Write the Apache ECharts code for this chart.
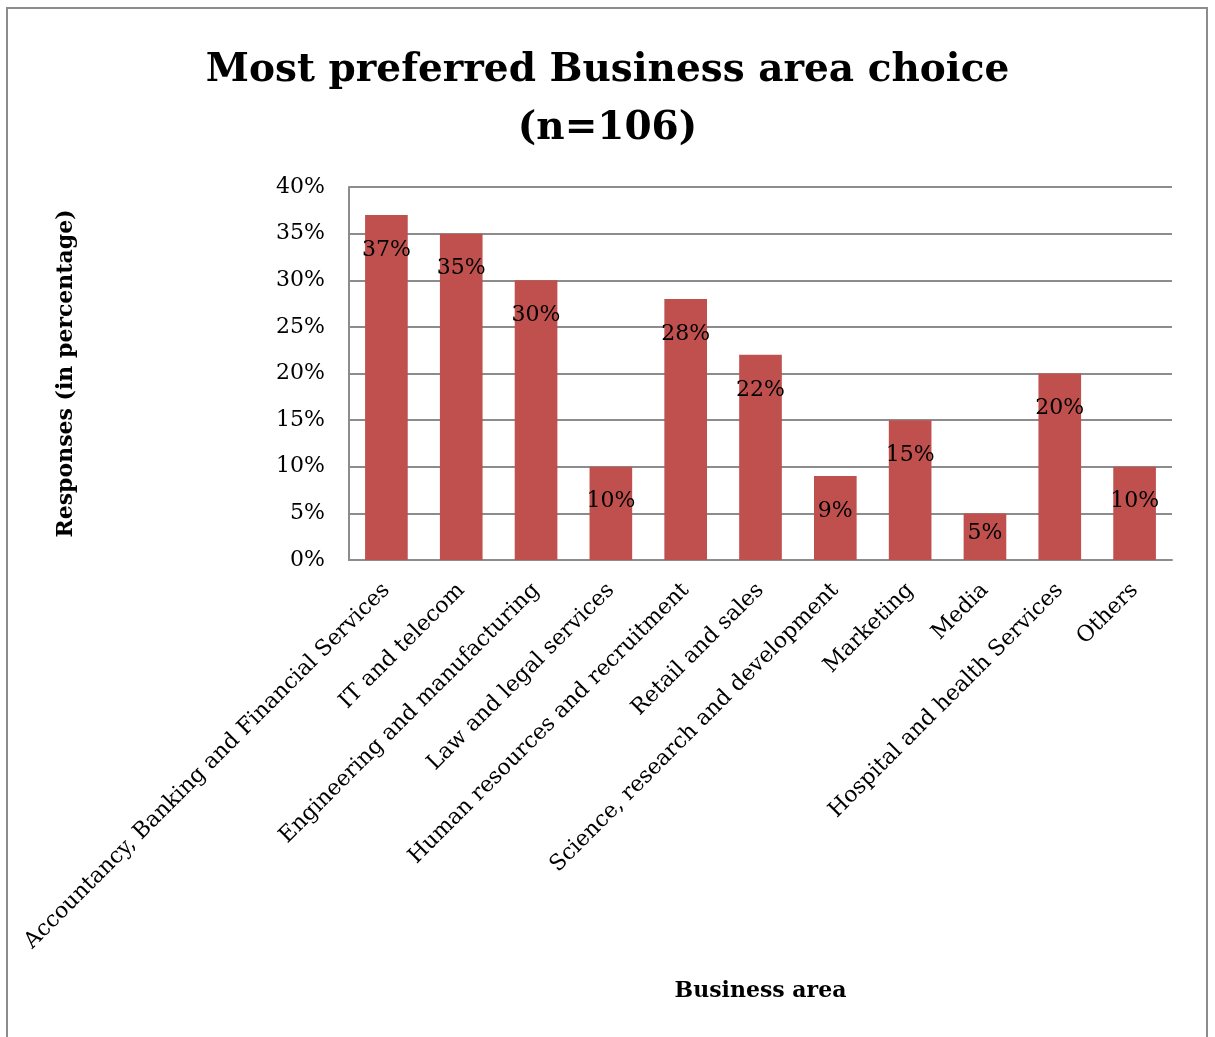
<!DOCTYPE html>
<html>
<head>
<meta charset="utf-8">
<script src="https://cdn.jsdelivr.net/npm/echarts@6/dist/echarts.min.js"></script>
<style>
  html, body { margin: 0; padding: 0; background: #ffffff; }
  #chart { width: 1215px; height: 1037px; }
</style>
</head>
<body>
<div id="chart"></div>
<script>
// Business areas and the share of respondents (%) choosing each one
const categories = [
  'Accountancy, Banking and Financial Services',
  'IT and telecom',
  'Engineering and manufacturing',
  'Law and legal services',
  'Human resources and recruitment',
  'Retail and sales',
  'Science, research and development',
  'Marketing',
  'Media',
  'Hospital and health Services',
  'Others'
];
const responses = [37, 35, 30, 10, 28, 22, 9, 15, 5, 20, 10];
const yTicks = { min: 0, max: 40, step: 5 };

const SERIF = '"DejaVu Serif", "Liberation Serif", serif';
const GRAY = '#8c8c8c';

const chart = echarts.init(document.getElementById('chart'), null, { renderer: 'canvas' });

chart.setOption({
  backgroundColor: '#ffffff',
  animation: false,
  title: {
    text: 'Most preferred Business area choice\n(n=106)',
    left: 'center',
    top: 37,
    textStyle: {
      fontFamily: SERIF,
      fontWeight: 'bold',
      fontSize: 39,
      lineHeight: 58,
      color: '#000'
    }
  },
  graphic: [{
    type: 'rect',
    shape: { x: 7, y: 8, width: 1200, height: 1040 },
    style: { fill: 'none', stroke: GRAY, lineWidth: 2 },
    silent: true
  }],
  grid: { left: 349, right: 43, top: 187, bottom: 477 },
  xAxis: {
    type: 'category',
    data: categories,
    name: 'Business area',
    nameLocation: 'middle',
    nameGap: 420,
    nameTextStyle: { fontFamily: SERIF, fontWeight: 'bold', fontSize: 22, color: '#000' },
    axisLine: { show: true, lineStyle: { color: GRAY, width: 2 } },
    axisTick: { show: false },
    axisLabel: {
      interval: 0,
      rotate: 45,
      margin: 27,
      fontFamily: SERIF,
      fontSize: 22,
      color: '#000'
    }
  },
  yAxis: {
    type: 'value',
    min: yTicks.min,
    max: yTicks.max,
    interval: yTicks.step,
    name: 'Responses (in percentage)',
    nameLocation: 'middle',
    nameGap: 272,
    nameRotate: 90,
    nameTextStyle: { fontFamily: SERIF, fontWeight: 'bold', fontSize: 22, color: '#000' },
    axisLine: { show: true, lineStyle: { color: GRAY, width: 2 } },
    axisTick: { show: false },
    splitLine: { show: true, lineStyle: { color: GRAY, width: 2 } },
    axisLabel: {
      formatter: '{value}%',
      margin: 24,
      fontFamily: SERIF,
      fontSize: 22,
      color: '#000'
    }
  },
  series: [{
    type: 'bar',
    data: responses.map(v => v === 5
      ? { value: v, label: { position: 'inside', offset: [0, -3] } }
      : v),
    barWidth: '57%',
    itemStyle: { color: '#C0504D' },
    label: {
      show: true,
      position: 'insideTop',
      distance: 24,
      formatter: '{c}%',
      fontFamily: SERIF,
      fontSize: 22,
      color: '#000'
    }
  }]
});
</script>
</body>
</html>
